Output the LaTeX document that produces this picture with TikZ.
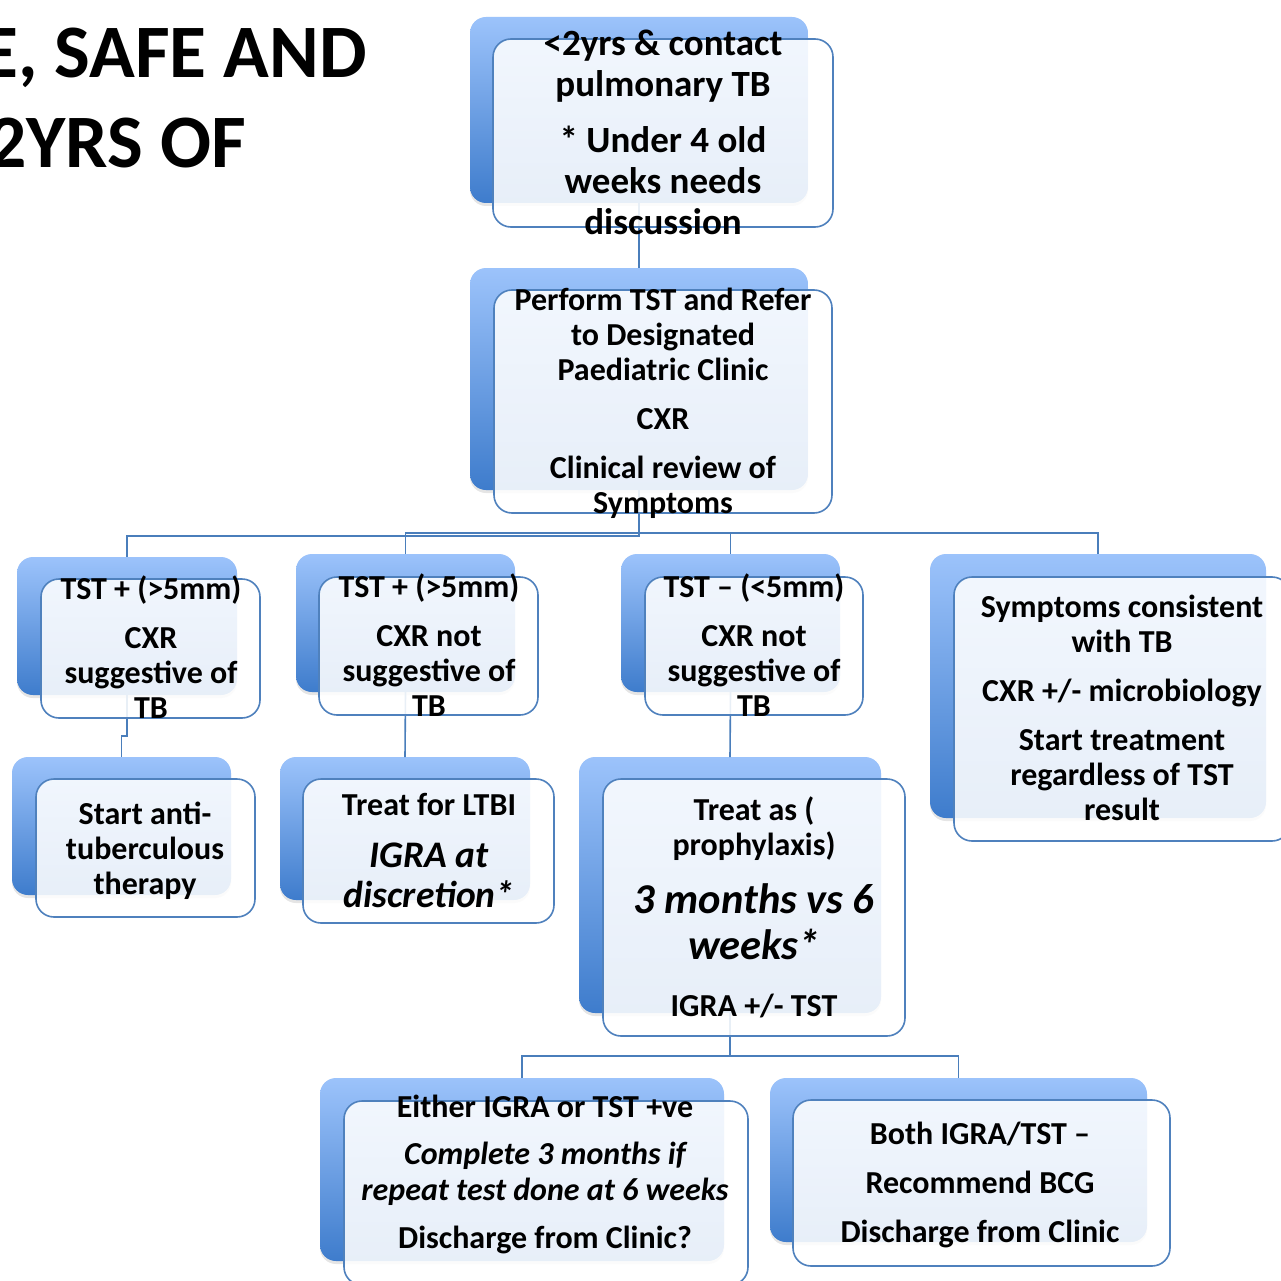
\documentclass[tikz,border=0pt]{standalone}
\usepackage{fontspec}
\setmainfont{Carlito}
\usetikzlibrary{shadows}
\definecolor{btop}{RGB}{156,195,251}
\definecolor{bbot}{RGB}{62,124,204}
\definecolor{bord}{RGB}{79,129,189}
\definecolor{conn}{RGB}{74,126,187}
\tikzset{
  backbox/.style={rectangle, rounded corners=16pt, inner sep=0pt, outer sep=0pt,
    top color=btop, bottom color=bbot, draw=none,
    drop shadow={opacity=0.2, shadow xshift=0pt, shadow yshift=-3pt}},
  frontbox/.style={rectangle, rounded corners=18pt, inner sep=0pt, outer sep=0pt,
    draw=bord, line width=1.6pt, fill=white, fill opacity=0.88},
  connline/.style={draw=conn, line width=1.6pt},
  txt/.style={align=center, inner sep=0pt, text=black,
    font=\fontsize{32}{35}\selectfont\bfseries},
  bigtxt/.style={align=center, inner sep=0pt, text=black,
    font=\fontsize{37}{41}\selectfont\bfseries},
  ittxt/.style={align=center, inner sep=0pt, text=black,
    font=\fontsize{37.5}{40}\selectfont\bfseries\itshape},
  ithuge/.style={align=center, inner sep=0pt, text=black,
    font=\fontsize{42.5}{46}\selectfont\bfseries\itshape},
  smit/.style={align=center, inner sep=0pt, text=black,
    font=\fontsize{32}{36}\selectfont\bfseries\itshape},
  titletxt/.style={inner sep=0pt, text=black,
    font=\fontsize{75.5}{90}\selectfont\bfseries}
}
\begin{document}
\begin{tikzpicture}[x=1pt,y=-1pt]
\path[use as bounding box] (0,0) rectangle (1281,1281);
\clip (0,0) rectangle (1281,1281);
\fill[white] (0,0) rectangle (1281,1281);

% title (cut off at left)
\node[titletxt, anchor=base east] (title1) at (367,78) {E, SAFE AND};
\node[titletxt, anchor=base east] (title2) at (246,168) {2YRS OF};

% back boxes
\node[backbox, minimum width=338pt, minimum height=186pt] (b1) at (639,110) {};
\node[backbox, minimum width=338pt, minimum height=222pt] (b2) at (639,379) {};
\node[backbox, minimum width=220pt, minimum height=138pt] (b3a) at (127,626) {};
\node[backbox, minimum width=219pt, minimum height=138pt] (b3b) at (405.5,623) {};
\node[backbox, minimum width=219pt, minimum height=138pt] (b3c) at (730.5,623) {};
\node[backbox, minimum width=336pt, minimum height=264pt] (b3d) at (1098,686) {};
\node[backbox, minimum width=219pt, minimum height=138pt] (b4a) at (121.5,826) {};
\node[backbox, minimum width=250pt, minimum height=143pt] (b4b) at (405,828.5) {};
\node[backbox, minimum width=302pt, minimum height=256pt] (b4c) at (730,885) {};
\node[backbox, minimum width=404pt, minimum height=183pt] (b5a) at (522,1169.5) {};
\node[backbox, minimum width=377pt, minimum height=164pt] (b5b) at (958.5,1160) {};

% connectors
\draw[connline] (b1.south) -- (b2.north);
\draw[connline] (b2.south) -- ++(0,46) -| (b3a.north);
\draw[connline] (b2.south) -- ++(0,43) -| (b3b.north);
\draw[connline] (b2.south) -- ++(0,43) -| (b3c.north);
\draw[connline] (b2.south) -- ++(0,43) -| (b3d.north);
\draw[connline] (b3a.south) -- ++(0,41) -| (b4a.north);
\draw[connline] (b3b.south) -- (b4b.north);
\draw[connline] (b3c.south) -- (b4c.north);
\draw[connline] (b4c.south) -- ++(0,43) -| (b5a.north);
\draw[connline] (b4c.south) -- ++(0,43) -| (b5b.north);

% front boxes
\node[frontbox, minimum width=340pt, minimum height=188pt] (f1) at (663,133) {};
\node[frontbox, minimum width=338pt, minimum height=223pt] (f2) at (663,401.5) {};
\node[frontbox, minimum width=219pt, minimum height=139pt] (f3a) at (150.5,648.5) {};
\node[frontbox, minimum width=219pt, minimum height=138pt] (f3b) at (428.5,646) {};
\node[frontbox, minimum width=218pt, minimum height=138pt] (f3c) at (754,646) {};
\node[frontbox, minimum width=336pt, minimum height=264pt] (f3d) at (1122,709) {};
\node[frontbox, minimum width=219pt, minimum height=138pt] (f4a) at (145.5,848) {};
\node[frontbox, minimum width=251pt, minimum height=144pt] (f4b) at (428.5,851) {};
\node[frontbox, minimum width=302pt, minimum height=257pt] (f4c) at (754,907.5) {};
\node[frontbox, minimum width=404pt, minimum height=184pt] (f5a) at (546,1193) {};
\node[frontbox, minimum width=377pt, minimum height=166pt] (f5b) at (981.5,1183) {};

% texts
\node[bigtxt] (t1) at (663,132) {<2yrs \& contact\\pulmonary TB\\[15pt]* Under 4 old\\weeks needs\\discussion};
\node[txt] (t2) at (663,403) {Perform TST and Refer\\to Designated\\Paediatric Clinic\\[14pt]CXR\\[14pt]Clinical review of\\Symptoms};
\node[txt] (t3a) at (151,647) {TST + (>5mm)\\[14pt]CXR\\suggestive of\\TB};
\node[txt] (t3b) at (429,645) {TST + (>5mm)\\[14pt]CXR not\\suggestive of\\TB};
\node[txt] (t3c) at (754,645) {TST – (<5mm)\\[14pt]CXR not\\suggestive of\\TB};
\node[txt] (t3d) at (1122,708) {Symptoms consistent\\with TB\\[14pt]CXR +/- microbiology\\[14pt]Start treatment\\regardless of TST\\result};
\node[txt] (t4a) at (145,851) {Start anti-\\tuberculous\\therapy};
\node[txt] (t4b1) at (429,804) {Treat for LTBI};
\node[ittxt] (t4b2) at (429,875) {IGRA at\\discretion*};
\node[txt] (t4c1) at (754,829) {Treat as (\\prophylaxis)};
\node[ithuge] (t4c2) at (754,922) {3 months vs 6\\weeks*};
\node[txt] (t4c3) at (754,1006) {IGRA +/- TST};
\node[txt] (t5a1) at (545,1106) {Either IGRA or TST +ve};
\node[smit] (t5a2) at (545,1174) {Complete 3 months if\\repeat test done at 6 weeks};
\node[txt] (t5a3) at (545,1240) {Discharge from Clinic?};
\node[txt] (t5b) at (980,1185) {Both IGRA/TST –\\[14pt]Recommend BCG\\[14pt]Discharge from Clinic};
\end{tikzpicture}
\end{document}
